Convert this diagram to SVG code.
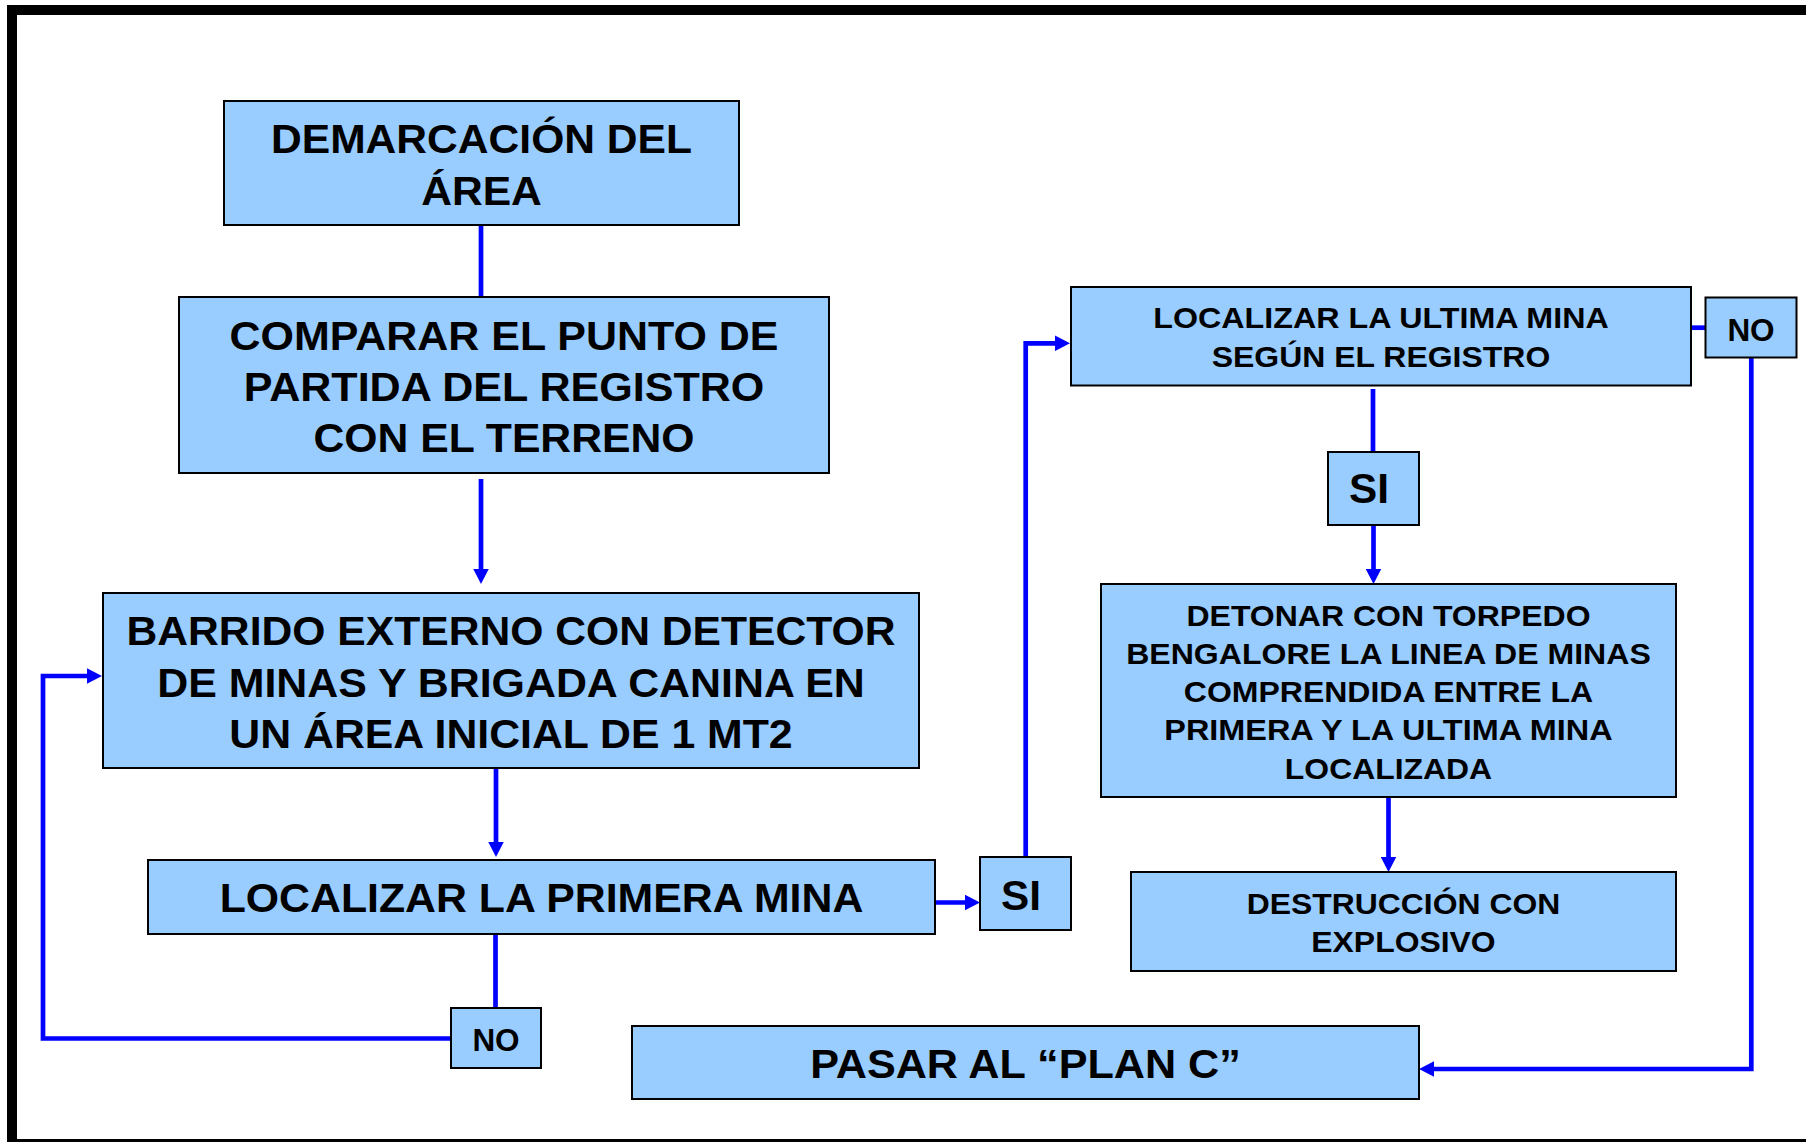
<svg xmlns="http://www.w3.org/2000/svg" width="1806" height="1142" viewBox="0 0 1806 1142">
<style>
.box{fill:#99CCFF;stroke:#000;stroke-width:2}
.t{font-family:"Liberation Sans",Arial,sans-serif;font-weight:bold;text-anchor:middle;fill:#000}
.big{font-size:40px}
.sm{font-size:29.5px}
.lab{font-size:31.5px}
.lab2{font-size:43px}
.c{fill:none;stroke:#0000FF;stroke-width:4.7;stroke-linejoin:miter}
.a{marker-end:url(#ah)}
</style>
<defs>
<marker id="ah" markerUnits="userSpaceOnUse" markerWidth="16" markerHeight="16" refX="7" refY="8" orient="auto">
<path d="M0,0.25 L15,8 L0,15.75 Z" fill="#0000FF"/>
</marker>
</defs>
<rect x="12" y="10" width="1830" height="1134" fill="#fff" stroke="#000" stroke-width="10"/>

<g id="connectors">
<path class="c" d="M481,225 V297"/>
<path class="c a" d="M481,479 V576"/>
<path class="c a" d="M496,767 V849"/>
<path class="c" d="M495.5,934 V1008"/>
<path class="c a" d="M451,1038.5 H43 V676 H94"/>
<path class="c a" d="M935,902.5 H972"/>
<path class="c a" d="M1025.7,857 V343.3 H1062"/>
<path class="c" d="M1373,389 V452"/>
<path class="c a" d="M1373.5,525 V576"/>
<path class="c a" d="M1388.5,797 V864"/>
<path class="c" d="M1691,327.7 H1705.5"/>
<path class="c a" d="M1751.3,357.7 V1069 H1427"/>
</g>

<g id="n-demarcacion">
<rect class="box" x="224" y="101" width="515" height="124"/>
<text class="t big" x="481.5" y="153" textLength="421" lengthAdjust="spacingAndGlyphs">DEMARCACIÓN DEL</text>
<text class="t big" x="481.5" y="205" textLength="120.7" lengthAdjust="spacingAndGlyphs">ÁREA</text>
</g>

<g id="n-comparar">
<rect class="box" x="179" y="297" width="650" height="176"/>
<text class="t big" x="504" y="350" textLength="549" lengthAdjust="spacingAndGlyphs">COMPARAR EL PUNTO DE</text>
<text class="t big" x="504" y="401" textLength="520.7" lengthAdjust="spacingAndGlyphs">PARTIDA DEL REGISTRO</text>
<text class="t big" x="504" y="452" textLength="381" lengthAdjust="spacingAndGlyphs">CON EL TERRENO</text>
</g>

<g id="n-barrido">
<rect class="box" x="103" y="593" width="816" height="175"/>
<text class="t big" x="511" y="645" textLength="769" lengthAdjust="spacingAndGlyphs">BARRIDO EXTERNO CON DETECTOR</text>
<text class="t big" x="511" y="696.5" textLength="707.6" lengthAdjust="spacingAndGlyphs">DE MINAS Y BRIGADA CANINA EN</text>
<text class="t big" x="511" y="748" textLength="563.3" lengthAdjust="spacingAndGlyphs">UN ÁREA INICIAL DE 1 MT2</text>
</g>

<g id="n-primera">
<rect class="box" x="148" y="860" width="787" height="74"/>
<text class="t big" x="541.5" y="911.5" textLength="643.7" lengthAdjust="spacingAndGlyphs">LOCALIZAR LA PRIMERA MINA</text>
</g>

<g id="n-no1">
<rect class="box" x="451" y="1008" width="90" height="60"/>
<text class="t lab" x="496" y="1051">NO</text>
</g>

<g id="n-si1">
<rect class="box" x="980" y="857" width="91" height="73"/>
<text class="t lab2" x="1021" y="910" textLength="40" lengthAdjust="spacingAndGlyphs">SI</text>
</g>

<g id="n-ultima">
<rect class="box" x="1071" y="287" width="620" height="98.5"/>
<text class="t sm" x="1381" y="328" textLength="455.4" lengthAdjust="spacingAndGlyphs">LOCALIZAR LA ULTIMA MINA</text>
<text class="t sm" x="1381" y="367" textLength="338.6" lengthAdjust="spacingAndGlyphs">SEGÚN EL REGISTRO</text>
</g>

<g id="n-no2">
<rect class="box" x="1705.5" y="297.5" width="91" height="60"/>
<text class="t lab" x="1751" y="340.7">NO</text>
</g>

<g id="n-si2">
<rect class="box" x="1328" y="452" width="91" height="73"/>
<text class="t lab2" x="1369" y="503" textLength="40" lengthAdjust="spacingAndGlyphs">SI</text>
</g>

<g id="n-detonar">
<rect class="box" x="1101" y="584" width="575" height="213"/>
<text class="t sm" x="1388.5" y="626" textLength="404.1" lengthAdjust="spacingAndGlyphs">DETONAR CON TORPEDO</text>
<text class="t sm" x="1388.5" y="664" textLength="524.6" lengthAdjust="spacingAndGlyphs">BENGALORE LA LINEA DE MINAS</text>
<text class="t sm" x="1388.5" y="702" textLength="409.4" lengthAdjust="spacingAndGlyphs">COMPRENDIDA ENTRE LA</text>
<text class="t sm" x="1388.5" y="740" textLength="448.4" lengthAdjust="spacingAndGlyphs">PRIMERA Y LA ULTIMA MINA</text>
<text class="t sm" x="1388.5" y="778.5" textLength="207.3" lengthAdjust="spacingAndGlyphs">LOCALIZADA</text>
</g>

<g id="n-destruccion">
<rect class="box" x="1131" y="872" width="545" height="99"/>
<text class="t sm" x="1403.5" y="914" textLength="313.7" lengthAdjust="spacingAndGlyphs">DESTRUCCIÓN CON</text>
<text class="t sm" x="1403.5" y="951.6" textLength="184.4" lengthAdjust="spacingAndGlyphs">EXPLOSIVO</text>
</g>

<g id="n-planc">
<rect class="box" x="632" y="1026" width="787" height="73"/>
<text class="t big" x="1025.5" y="1078" textLength="430.7" lengthAdjust="spacingAndGlyphs">PASAR AL “PLAN C”</text>
</g>
</svg>
